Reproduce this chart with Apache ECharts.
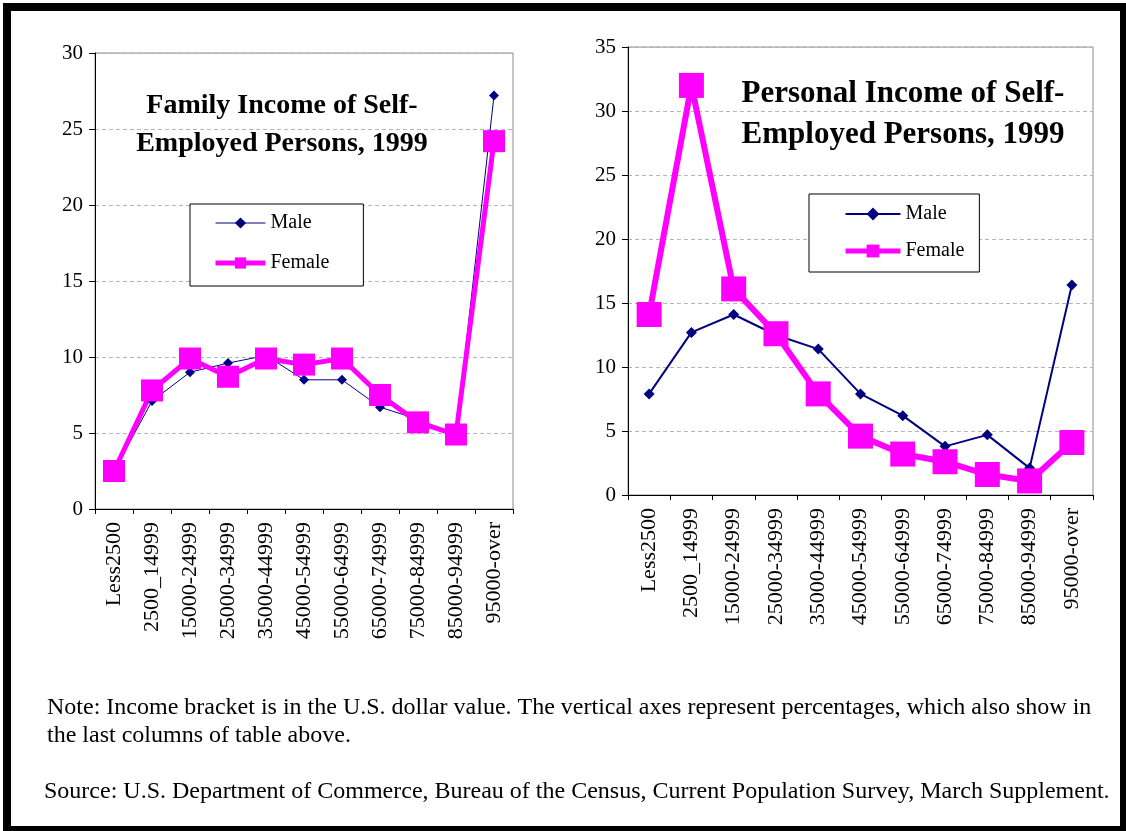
<!DOCTYPE html>
<html>
<head>
<meta charset="utf-8">
<script src="https://cdn.jsdelivr.net/npm/echarts@6/dist/echarts.min.js"></script>
<style>
  html, body { margin: 0; padding: 0; background: #fff; }
  #main { width: 1126px; height: 831px; }
</style>
</head>
<body>
<div id="main"></div>
<script>
// income brackets, same for both charts
const brackets = ["Less2500", "2500_14999", "15000-24999", "25000-34999", "35000-44999",
  "45000-54999", "55000-64999", "65000-74999", "75000-84999", "85000-94999", "95000-over"];

// family income (%)
const familyMale = [2.5, 7.1, 9.0, 9.6, 10.1, 8.5, 8.5, 6.7, 5.9, 4.9, 27.2];
const familyFemale = [2.5, 7.8, 9.9, 8.7, 9.9, 9.5, 9.9, 7.5, 5.7, 4.9, 24.2];

// personal income (%)
const personalMale = [7.9, 12.7, 14.1, 12.5, 11.4, 7.9, 6.2, 3.8, 4.7, 2.1, 16.4];
const personalFemale = [14.1, 32.0, 16.1, 12.6, 7.9, 4.6, 3.2, 2.6, 1.6, 1.1, 4.1];

const font = "Liberation Serif";
const navy = "#000080";
const magenta = "#ff00ff";

const chart = echarts.init(document.getElementById("main"));

function xAxisFor(i) {
  return {
    type: "category",
    gridIndex: i,
    data: brackets,
    boundaryGap: true,
    axisLine: { lineStyle: { color: "#000", width: 1 } },
    axisTick: { show: true, length: 5, lineStyle: { color: "#000" } },
    axisLabel: { rotate: 90, interval: 0, margin: 13, color: "#000", fontFamily: font, fontSize: 22 },
  };
}

function yAxisFor(i, max) {
  return {
    type: "value",
    gridIndex: i,
    min: 0,
    max: max,
    interval: 5,
    axisLine: { show: true, lineStyle: { color: "#000", width: 1 } },
    axisTick: { show: true, length: 6, lineStyle: { color: "#000" } },
    axisLabel: { margin: 12, color: "#000", fontFamily: font, fontSize: 21 },
    splitLine: { show: true, lineStyle: { color: "#b4b4b4", type: [4, 3], width: 1 } },
  };
}

const option = {
  backgroundColor: "#fff",
  animation: false,
  title: [
    {
      text: "Family Income of Self-\nEmployed Persons, 1999",
      left: 277, top: 82, textAlign: "center",
      textStyle: { fontFamily: font, fontWeight: "bold", fontSize: 28, lineHeight: 38, color: "#000" },
    },
    {
      text: "Personal Income of Self-\nEmployed Persons, 1999",
      left: 898, top: 68, textAlign: "center",
      textStyle: { fontFamily: font, fontWeight: "bold", fontSize: 31, lineHeight: 41, color: "#000" },
    },
    {
      text: "Note: Income bracket is in the U.S. dollar value. The vertical axes represent percentages, which also show in\nthe last columns of table above.",
      left: 42, top: 689,
      textStyle: { fontFamily: font, fontWeight: "normal", fontSize: 24, lineHeight: 28, color: "#000" },
    },
    {
      text: "Source: U.S. Department of Commerce, Bureau of the Census, Current Population Survey, March Supplement.",
      left: 39, top: 773,
      textStyle: { fontFamily: font, fontWeight: "normal", fontSize: 24, lineHeight: 28, color: "#000" },
    },
  ],
  legend: [
    {
      orient: "vertical",
      left: 190, top: 204,
      data: [
        { name: "Male", lineStyle: { width: 1 } },
        { name: "Female", lineStyle: { width: 5 } },
      ],
      itemWidth: 50, itemHeight: 14, itemGap: 20,
      padding: [9, 34, 13, 23],
      borderColor: "#000", borderWidth: 1, backgroundColor: "#fff",
      textStyle: { fontFamily: font, fontSize: 20, color: "#000" },
    },
    {
      orient: "vertical",
      left: 809, top: 194,
      data: [
        { name: "Male", lineStyle: { width: 2 } },
        { name: "Female", lineStyle: { width: 5 } },
      ],
      itemWidth: 55, itemHeight: 16, itemGap: 17,
      padding: [10, 15, 11, 34],
      borderColor: "#000", borderWidth: 1, backgroundColor: "#fff",
      textStyle: { fontFamily: font, fontSize: 20, color: "#000" },
    },
  ],
  grid: [
    { left: 95, top: 53, width: 418, height: 456, show: true, borderColor: "#8c8c8c", borderWidth: 1 },
    { left: 628, top: 47, width: 465, height: 448, show: true, borderColor: "#8c8c8c", borderWidth: 1 },
  ],
  xAxis: [xAxisFor(0), xAxisFor(1)],
  yAxis: [yAxisFor(0, 30), yAxisFor(1, 35)],
  series: [
    {
      name: "Male", type: "line", xAxisIndex: 0, yAxisIndex: 0,
      data: familyMale,
      symbol: "diamond", symbolSize: 10,
      lineStyle: { color: navy, width: 1 },
      itemStyle: { color: navy },
    },
    {
      name: "Female", type: "line", xAxisIndex: 0, yAxisIndex: 0,
      data: familyFemale,
      symbol: "rect", symbolSize: 22,
      lineStyle: { color: magenta, width: 5 },
      itemStyle: { color: magenta },
    },
    {
      name: "Male", type: "line", xAxisIndex: 1, yAxisIndex: 1,
      data: personalMale,
      symbol: "diamond", symbolSize: 11,
      lineStyle: { color: navy, width: 2 },
      itemStyle: { color: navy },
    },
    {
      name: "Female", type: "line", xAxisIndex: 1, yAxisIndex: 1,
      data: personalFemale,
      symbol: "rect", symbolSize: 25,
      lineStyle: { color: magenta, width: 6 },
      itemStyle: { color: magenta },
    },
  ],
  graphic: [
    {
      // thick frame around the whole figure
      type: "rect",
      shape: { x: 7, y: 7, width: 1117, height: 823 },
      style: { fill: null, stroke: "#000", lineWidth: 8 },
      silent: true,
    },
  ],
};

chart.setOption(option);
</script>
</body>
</html>
